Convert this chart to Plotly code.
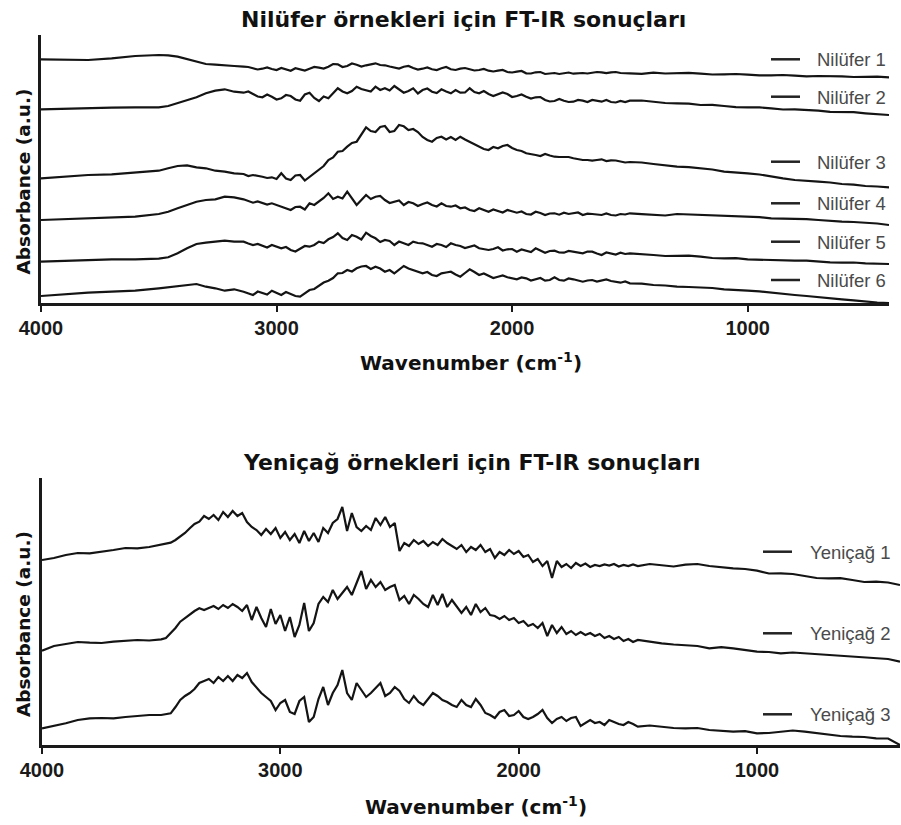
import plotly.graph_objects as go

# ---------------- data (absorbance in arbitrary units, stacked spectra) ----------------
top_wavenumber = [4000, 3900, 3800, 3700, 3600,
                  3500, 3460, 3420, 3380, 3340, 3300, 3260, 3220, 3180, 3140,
                  3120, 3100, 3080, 3060, 3040, 3020, 3000, 2980, 2960, 2940,
                  2920, 2900, 2880, 2860, 2840, 2820, 2800, 2780, 2760, 2740,
                  2720, 2700, 2680, 2660, 2640, 2620, 2600, 2580, 2560, 2540,
                  2520, 2500, 2480, 2460, 2440, 2420, 2400, 2380, 2360, 2340,
                  2320, 2300, 2280, 2260, 2240, 2220, 2200, 2180, 2160, 2140,
                  2120, 2100, 2080, 2060, 2040, 2020, 2000, 1980, 1960, 1940,
                  1920, 1900, 1880, 1860, 1840, 1820, 1800, 1780, 1760, 1740,
                  1720, 1700, 1680, 1660, 1640, 1620, 1600, 1580, 1560, 1540,
                  1520, 1500,
                  1450, 1400, 1350, 1300, 1250, 1200, 1150, 1100, 1050, 1000,
                  950, 900, 850, 800, 750, 700, 650, 600, 550, 500, 450, 400]

nilufer_1 = [243.7, 243, 243, 244.7, 247,
             248, 247.7, 246.3, 243.7, 241, 239, 238.3, 238, 237, 236.3,
             236, 234.7, 233.5, 234.3, 235.5, 234, 233, 235, 234, 232.3,
             234.8, 233.7, 232.5, 234.3, 236, 235.3, 234.5, 236.3, 239, 238.7,
             236, 237, 239.5, 238.3, 236.5, 237.7, 238.5, 239.7, 238, 237.7,
             236.5, 235.7, 234.5, 236.3, 237, 235, 233.5, 234.3, 235.5, 233.7,
             233, 234.7, 236, 233.7, 233, 234.3, 235, 233.7, 232.5, 233,
             234, 232.3, 231.5, 232.3, 233, 231, 230.5, 231.3, 232, 229.7,
             229.5, 230.7, 231, 229, 229.8, 230, 229, 229.7, 230.5, 229.3,
             229.8, 230, 229.5, 230.3, 231, 230.7, 229.8, 230.7, 231, 230,
             229.5, 229.7,
             229.2, 230.3, 229.5, 229.7, 230.2, 229.3, 228.5, 228.7, 229, 228.3,
             227.6, 227.7, 228, 227.3, 226.7, 227, 227.2, 226.7, 226, 226.3, 226.3, 225.7]

nilufer_2 = [193.7, 194, 195, 195.3, 195.7,
             195.7, 197, 199.7, 202.3, 205.7, 209.7, 212.3, 213.7, 211.3, 210.3,
             211.5, 209, 206.5, 205.7, 208.5, 206.3, 203.5, 204.7, 208, 207,
             203.5, 202.3, 208.5, 210.3, 205, 202, 206.5, 204.7, 210, 214.7,
             211.5, 209.7, 212, 216.3, 214, 213, 211.5, 216.3, 213, 214.7,
             212.5, 217, 214, 210.3, 212, 214.7, 209.5, 213, 214.5, 211.3,
             210, 213.7, 211.5, 209.7, 213, 210.3, 210.5, 214.7, 211, 209.7,
             212, 209, 207, 208.7, 210.5, 209, 206, 207, 208.5, 206.3,
             204.5, 205.7, 206, 203, 201.5, 202, 204, 202.3, 201, 201.3,
             203, 202.3, 201, 203, 202.5, 201.3, 203, 201, 200.5, 202,
             201, 202.3,
             202.5, 201.3, 200, 199.7, 199.3, 198, 198.2, 197, 195.8, 195.7,
             195.6, 194.7, 193.5, 193.7, 193.2, 192.3, 191.2, 191.3, 190.8, 189.7, 188.5, 188]

nilufer_3 = [124.7, 126.3, 128, 128.7, 130.3,
             132.3, 134.7, 137, 137.7, 135.7, 134.7, 132.3, 131.3, 129.7, 129,
             127, 128, 127.5, 126.3, 125, 125.7, 124, 129.7, 124.5, 123,
             127.5, 128, 122.5, 126.3, 130, 134, 137, 143, 145.5, 151.3,
             152, 156.3, 160, 161.3, 168, 175.7, 172, 171, 176, 177,
             171, 172, 178, 176.7, 173, 174, 171, 166, 163, 161.3,
             165, 166.3, 163.5, 166, 163, 166.3, 163.5, 161.3, 159, 156.3,
             154, 153, 156, 154.7, 157, 158, 155, 153, 152, 149.7,
             148.5, 148, 147, 149, 147.5, 146.3, 146, 145.7, 146, 144.7,
             143.5, 143, 143, 142.3, 143, 143.7, 142, 142.7, 142.5, 141.3,
             140.5, 141,
             140.5, 139, 137.5, 136.3, 135.8, 134.7, 133.5, 131.3, 130.8, 129.7,
             128.5, 126.3, 124.6, 123, 122.5, 121.3, 120.5, 119, 118.4, 117, 116.5, 115.7]

nilufer_4 = [83, 83.7, 84.7, 85.3, 86.3,
             89, 91.3, 94.7, 98, 101.3, 103, 103.7, 106.3, 105.7, 103.7,
             102, 100.3, 101.5, 99.7, 98.5, 99.7, 98, 96.3, 94.5, 93,
             96, 96.3, 93.5, 99.7, 98, 101.7, 105, 109.7, 104, 106.3,
             104.5, 111.3, 105, 98, 103, 108, 104, 106.3, 107, 103,
             100, 101.3, 102.5, 98, 101, 99.7, 97, 99, 100.5, 98,
             96.5, 99.7, 97, 96.3, 97.5, 94.7, 95.5, 93, 92, 94.7,
             93, 91.3, 93.5, 92.3, 90.5, 93, 92, 90.3, 91.5, 89,
             88.5, 91.3, 90, 88, 89.5, 89.7, 88.3, 90.3, 89, 89.7,
             90.5, 88, 89.3, 89, 88.3, 88, 89.5, 88, 87.5, 89,
             88.5, 89.7,
             88.8, 88, 87.5, 89, 88.5, 88, 88.2, 87, 86.5, 86.3,
             85.8, 84.7, 84.5, 83.7, 83.8, 83, 82, 81.3, 81, 80.3, 79.5, 78]

nilufer_5 = [41.3, 42.3, 43, 43.7, 43.7,
             44.3, 45.7, 49.7, 54.7, 59, 60.3, 61.3, 62.3, 61.3, 61.3,
             59.5, 58, 59, 57, 55.5, 58, 56.5, 54.7, 56, 53,
             51.5, 54.7, 57, 56.3, 58, 61.3, 60, 63.7, 66, 69.7,
             65, 63, 68, 66.3, 63.5, 70.3, 67, 64.7, 61, 63,
             62, 58, 61.5, 59.7, 58, 61.3, 60, 59.7, 58, 56.3,
             59, 58, 56, 59.7, 58, 57, 55, 56.3, 57.5, 54.7,
             53.5, 53, 54, 55.7, 52.5, 53.7, 54, 51.3, 53.5, 52.3,
             51, 54.7, 52.5, 50.3, 52, 52.3, 50.5, 50.3, 52, 51.3,
             50, 49.7, 51.5, 51.3, 49.5, 48, 50.5, 49.7, 48.5, 50.3,
             49, 49.7,
             49.2, 48, 47, 47, 47.3, 46.3, 45, 44.7, 44.8, 43.7,
             43.2, 43, 42.4, 42.3, 42.3, 41.3, 40.7, 40.3, 40.5, 39.7, 39.2, 39]

nilufer_6 = [7, 9, 10.3, 11.3, 12.3,
             14.7, 15.7, 17, 18, 19, 16.3, 14.7, 12.3, 13.7, 11.3,
             10, 8, 11.5, 9.7, 8.5, 12.3, 10.5, 8, 11, 9,
             7, 6.3, 10, 13, 14, 17, 20.5, 22.3, 25, 29.7,
             30, 33, 31.5, 34.7, 36.5, 37, 34, 36.3, 34.5, 31.3,
             33, 29.7, 33.5, 37, 34.5, 33, 31, 29.7, 31, 28,
             27, 29.7, 30.5, 31.3, 28.5, 26.3, 30, 33.7, 31, 28,
             29.5, 27, 25, 26.3, 27.5, 25.7, 24.5, 23.7, 25.5, 24.7,
             22.5, 23.7, 25, 22.3, 23, 25.7, 23, 22.3, 24.5, 23.7,
             22.5, 21.3, 22.5, 23, 21.5, 22.3, 23.5, 22, 21, 20.3,
             21.5, 19.7,
             19.3, 18, 17.5, 16.3, 16, 15.7, 15, 13.7, 13.3, 12.3,
             11.7, 10.3, 9.5, 8, 7, 5.7, 4.8, 3.7, 2.6, 1.3, 0.5, 0]

bottom_wavenumber = [4000, 3950, 3900, 3850, 3800, 3750, 3700, 3650, 3600, 3550, 3500,
                     3480, 3460, 3440, 3420, 3400, 3380, 3360, 3340, 3320, 3300,
                     3280, 3260, 3240, 3220, 3200, 3180, 3160, 3140, 3120, 3100,
                     3080, 3060, 3040, 3020, 3000, 2980, 2960, 2940, 2920, 2900,
                     2880, 2860, 2840, 2820, 2800, 2780, 2760, 2740, 2720, 2700,
                     2680, 2660, 2640, 2620, 2600, 2580, 2560, 2540, 2520, 2500,
                     2480, 2460, 2440, 2420, 2400, 2380, 2360, 2340, 2320, 2300,
                     2280, 2260, 2240, 2220, 2200, 2180, 2160, 2140, 2120, 2100,
                     2080, 2060, 2040, 2020, 2000, 1980, 1960, 1940, 1920, 1900,
                     1880, 1860, 1840, 1820, 1800, 1780, 1760, 1740, 1720, 1700,
                     1680, 1660, 1640, 1620, 1600, 1580, 1560, 1540, 1520, 1500,
                     1450, 1400, 1350, 1300, 1250, 1200, 1150, 1100, 1050, 1000,
                     950, 900, 850, 800, 750, 700, 650, 600, 550, 500, 450, 400]

yenicag_1 = [185, 187, 190, 192, 191.7, 193, 195, 197, 196.7, 198, 200,
             201, 202.3, 205, 208.3, 212, 216.7, 221, 223.3, 229, 226,
             230, 225, 233, 228, 234, 229, 232, 223, 218, 215,
             210, 216, 211, 217, 207, 213, 205, 211, 202, 214,
             204, 212, 203, 217, 212, 222, 226, 238, 214, 232,
             218, 214, 219, 215, 227, 220, 228, 218, 222, 194,
             202, 199, 205, 201, 204, 199, 203, 200, 206, 202,
             199, 196, 200, 193, 198, 195, 200, 193, 196, 187,
             193, 190, 195, 191, 194, 188, 190, 183, 186, 179,
             184, 167, 184, 178, 181, 177, 182, 179, 181.5, 178,
             180, 179, 180.5, 179.5, 181, 178.5, 180, 179, 180.5, 179,
             181, 179.7, 178.5, 180.3, 181, 179, 177.5, 176.7, 176, 174.3,
             171.5, 171.7, 171, 169, 167, 166.7, 166.8, 165, 163, 163.3, 162.5, 160]

yenicag_2 = [94.3, 99, 101, 103, 102.3, 102, 103.3, 104, 105, 104.5, 105.7,
             107, 111.7, 117, 123.3, 127, 130, 134, 136.7, 135, 137,
             139, 136, 140, 137, 141, 138, 134, 140, 125, 138,
             127, 118, 136, 121, 130, 114, 128, 108, 120, 142,
             114, 122, 141, 148, 143, 155, 146, 152, 158, 150,
             162, 174, 156, 165, 158, 163, 155, 158, 160, 145,
             149, 141, 150, 146, 141, 138, 150, 140, 151, 138,
             145, 139, 132, 138, 130, 141, 133, 137, 130, 129,
             126, 129, 125, 127, 122, 124, 119, 121, 117, 122,
             109, 120, 112, 118, 111, 114, 110, 113, 110, 112,
             109, 111, 107, 109, 106, 108, 104, 106, 103, 105,
             103, 101.7, 100.5, 100, 99, 96.7, 97.8, 96.7, 95, 93.3,
             93, 91.7, 92.5, 91.7, 90.5, 90, 89.5, 88.3, 88, 86.7, 86, 83.3]

yenicag_3 = [16.7, 19, 21.7, 25, 26.7, 27, 26.7, 28, 29, 30, 30,
             31, 31.7, 38, 45, 49, 52, 56, 62, 64, 66,
             62, 68, 64, 69, 64, 70, 67, 72, 63, 57,
             52, 48, 44, 35, 42, 45, 33, 31, 44, 48,
             23, 28, 46, 58, 40, 52, 60, 75, 52, 45,
             62, 55, 48, 52, 57, 62, 49, 52, 58, 54,
             46, 42, 49, 43, 40, 46, 52, 49, 45, 43,
             40, 38, 45, 40, 38, 46, 40, 32, 30, 27,
             33, 35, 29, 30, 34, 28, 26, 28, 31, 35,
             27, 22, 26, 28, 24, 27, 28, 19, 22, 25,
             22, 23, 20, 25, 23, 21, 20, 23, 21, 18.3,
             19.5, 18.3, 17, 16.7, 17, 15, 14, 13.3, 13.8, 11.7,
             12, 13.3, 14.5, 13.3, 12, 10, 9, 8.3, 8, 6.7, 6.5, 0]

top_names = ["Nilüfer 1", "Nilüfer 2", "Nilüfer 3", "Nilüfer 4", "Nilüfer 5", "Nilüfer 6"]
top_values = [nilufer_1, nilufer_2, nilufer_3, nilufer_4, nilufer_5, nilufer_6]
bottom_names = ["Yeniçağ 1", "Yeniçağ 2", "Yeniçağ 3"]
bottom_values = [yenicag_1, yenicag_2, yenicag_3]

x_tick_values = [4000, 3000, 2000, 1000]
x_tick_labels = ["4000", "3000", "2000", "1000"]

top_title = "Nilüfer örnekleri için FT-IR sonuçları"
bottom_title = "Yeniçağ örnekleri için FT-IR sonuçları"
x_title = "Wavenumber (cm<sup>-1</sup>)"
y_title = "Absorbance (a.u.)"

# ---------------- layout helpers ----------------
W, H = 901, 825


def fx(p):
    return p / W


def fy(p):
    return 1 - p / H


LINE = "#141414"
AXC = "#1a1a1a"
TITLE_FONT = "DejaVu Sans, Verdana, sans-serif"
TICK_FONT = "Liberation Sans, Arial, sans-serif"

fig = go.Figure()
for name, vals in zip(top_names, top_values):
    fig.add_trace(go.Scatter(x=top_wavenumber, y=vals, mode="lines", name=name,
                             line=dict(color=LINE, width=2.2),
                             xaxis="x", yaxis="y", showlegend=False))
for name, vals in zip(bottom_names, bottom_values):
    fig.add_trace(go.Scatter(x=bottom_wavenumber, y=vals, mode="lines", name=name,
                             line=dict(color=LINE, width=2.2),
                             xaxis="x2", yaxis="y2", showlegend=False))


def xaxis_cfg(domain, anchor):
    return dict(domain=domain, anchor=anchor, range=[4000, 400], autorange=False,
                automargin=False,
                showline=True, linecolor=AXC, linewidth=2.5,
                ticks="outside", ticklen=6, tickwidth=2, tickcolor=AXC,
                tickmode="array", tickvals=x_tick_values, ticktext=x_tick_labels,
                tickfont=dict(family=TICK_FONT, size=20, color=AXC, weight="bold"),
                ticklabelstandoff=-1,
                showgrid=False, zeroline=False, fixedrange=True)


def yaxis_cfg(domain, anchor, top):
    return dict(domain=domain, anchor=anchor, range=[0, top], autorange=False,
                automargin=False,
                showline=True, linecolor=AXC, linewidth=2.5,
                ticks="", showticklabels=False,
                showgrid=False, zeroline=False, fixedrange=True)


annotations = []
shapes = []

# titles
annotations.append(dict(text=top_title, x=fx(464), y=fy(19.5), xref="paper", yref="paper",
                        xanchor="center", yanchor="middle", showarrow=False,
                        font=dict(family=TITLE_FONT, size=22, color="#111111", weight="bold")))
annotations.append(dict(text=bottom_title, x=fx(472), y=fy(462.5), xref="paper", yref="paper",
                        xanchor="center", yanchor="middle", showarrow=False,
                        font=dict(family=TITLE_FONT, size=22, color="#111111", weight="bold")))
# axis titles
for xc, yc in [(471, 362), (476, 806)]:
    annotations.append(dict(text=x_title, x=fx(xc), y=fy(yc), xref="paper", yref="paper",
                            xanchor="center", yanchor="middle", showarrow=False,
                            font=dict(family=TITLE_FONT, size=20, color="#111111", weight="bold")))
for yc in [181.5, 624]:
    annotations.append(dict(text=y_title, x=fx(23), y=fy(yc), xref="paper", yref="paper",
                            xanchor="center", yanchor="middle", showarrow=False, textangle=-90,
                            font=dict(family=TITLE_FONT, size=18.5, color="#111111", weight="bold")))

# hand-placed legend entries (line sample + label)
top_legend_y = [59.3, 96.7, 161.7, 203.3, 241.7, 280]
bottom_legend_y = [551.7, 633.3, 714.3]
for name, yc in zip(top_names, top_legend_y):
    shapes.append(dict(type="line", xref="paper", yref="paper",
                       x0=fx(771), x1=fx(800), y0=fy(yc), y1=fy(yc),
                       line=dict(color="#222222", width=2.5)))
    annotations.append(dict(text=name, x=fx(815), y=fy(yc + 0.5), xref="paper", yref="paper",
                            xanchor="left", yanchor="middle", showarrow=False,
                            font=dict(family=TICK_FONT, size=18.5, color="#4a4a4a")))
for name, yc in zip(bottom_names, bottom_legend_y):
    shapes.append(dict(type="line", xref="paper", yref="paper",
                       x0=fx(763), x1=fx(792), y0=fy(yc), y1=fy(yc),
                       line=dict(color="#222222", width=2.5)))
    annotations.append(dict(text=name, x=fx(808), y=fy(yc + 0.5), xref="paper", yref="paper",
                            xanchor="left", yanchor="middle", showarrow=False,
                            font=dict(family=TICK_FONT, size=18.5, color="#4a4a4a")))

fig.update_layout(
    template="none",
    width=W, height=H, autosize=False,
    margin=dict(l=0, r=0, t=0, b=0, pad=0),
    paper_bgcolor="white", plot_bgcolor="white",
    showlegend=False,
    xaxis=xaxis_cfg([fx(41), fx(889)], "y"),
    yaxis=yaxis_cfg([fy(303), fy(35)], "x", 268),
    xaxis2=xaxis_cfg([fx(42), fx(900)], "y2"),
    yaxis2=yaxis_cfg([fy(745), fy(478)], "x2", 267),
    annotations=annotations,
    shapes=shapes,
)

fig.write_html("out.html", config={"displayModeBar": False})
